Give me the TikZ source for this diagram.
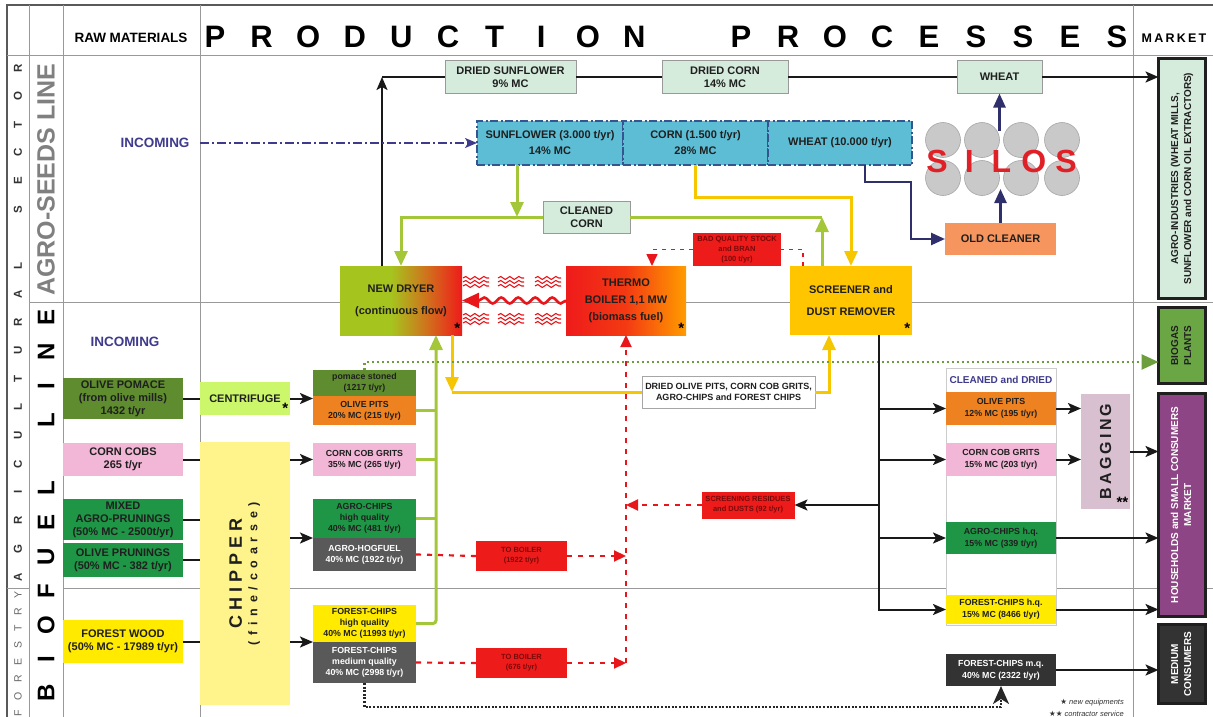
\documentclass[tikz,border=0pt]{standalone}
\usepackage{fontspec}
\setmainfont{Liberation Sans}
\newfontfamily\symbolfont{DejaVu Sans}
\usepackage{graphicx}
\usepackage{tikz}
\usetikzlibrary{arrows.meta,positioning,calc,decorations.pathmorphing}
\definecolor{olivegreen}{HTML}{5E8C2E}
\definecolor{cobpink}{HTML}{F2B6D6}
\definecolor{chipgreen}{HTML}{1E9646}
\definecolor{forestyellow}{HTML}{FFEA00}
\definecolor{chipperyellow}{HTML}{FFF38C}
\definecolor{centrigreen}{HTML}{CCF76A}
\definecolor{pitorange}{HTML}{EF8220}
\definecolor{hoggray}{HTML}{595959}
\definecolor{coalgray}{HTML}{333333}
\definecolor{palegreen}{HTML}{D5EBDC}
\definecolor{seedblue}{HTML}{5CBDD5}
\definecolor{seedborder}{HTML}{34558F}
\definecolor{navyline}{HTML}{2F2F6B}
\definecolor{cleanersalmon}{HTML}{F7955E}
\definecolor{screengold}{HTML}{FFC600}
\definecolor{boilred}{HTML}{EE1B1B}
\definecolor{boilmid}{HTML}{F43A12}
\definecolor{boilorange}{HTML}{FF9C00}
\definecolor{dryergreen}{HTML}{A6C41E}
\definecolor{dryermid}{HTML}{D4691C}
\definecolor{darkred}{HTML}{7A0A0A}
\definecolor{heatred}{HTML}{E8161B}
\definecolor{busgreen}{HTML}{A4C639}
\definecolor{busyellow}{HTML}{F6C700}
\definecolor{dotgreen}{HTML}{6D9E3D}
\definecolor{biogasgreen}{HTML}{6AA644}
\definecolor{housepurple}{HTML}{8E4585}
\definecolor{baggingmauve}{HTML}{D9C0D0}
\definecolor{incomingblue}{HTML}{3E3A8C}
\definecolor{silogray}{HTML}{C9C9C9}
\definecolor{silored}{HTML}{E02027}
\pgfdeclarehorizontalshading{dryershade}{100bp}{color(0bp)=(dryergreen); color(25bp)=(dryergreen); color(46bp)=(dryergreen); color(62bp)=(dryermid); color(75bp)=(boilred); color(100bp)=(boilred)}
\pgfdeclarehorizontalshading{boilershade}{100bp}{color(0bp)=(boilred); color(25bp)=(boilred); color(50bp)=(boilmid); color(75bp)=(boilorange); color(100bp)=(boilorange)}
\tikzset{
  gridline/.style={draw=black!40,line width=0.8pt},
  frameline/.style={draw=black!65,line width=1.2pt},
  headbig/.style={font=\bfseries\fontsize{31}{31}\selectfont,inner sep=0pt},
  headsmall/.style={font=\bfseries\fontsize{13.5}{15}\selectfont,inner sep=0pt},
  sectorletter/.style={rotate=90,inner sep=0pt,text=black!80,font=\bfseries\fontsize{11.5}{11.5}\selectfont},
  forestletter/.style={rotate=90,inner sep=0pt,text=black!60,font=\fontsize{10.5}{10.5}\selectfont},
  fuelletter/.style={rotate=90,inner sep=0pt,font=\bfseries\fontsize{24}{24}\selectfont},
  incoming/.style={text=incomingblue,font=\bfseries\fontsize{13.5}{15}\selectfont},
  box/.style={align=center,inner sep=1pt,outer sep=0pt,text=black!88,font=\bfseries\fontsize{8.8}{11}\selectfont},
  rawbox/.style={box,minimum width=120pt,font=\bfseries\fontsize{11}{13}\selectfont},
  midbox/.style={box,minimum width=103pt},
  drybox/.style={box,minimum width=110pt,font=\bfseries\fontsize{8.8}{12}\selectfont},
  palebox/.style={box,fill=palegreen,draw=black!40,line width=0.8pt,minimum height=33pt,font=\bfseries\fontsize{11}{13}\selectfont},
  seedbox/.style={box,fill=seedblue,draw=seedborder,line width=1.3pt,dash pattern=on 8pt off 2.5pt on 2pt off 2.5pt,minimum height=44pt,font=\bfseries\fontsize{11}{16}\selectfont},
  unitbox/.style={box,minimum width=122pt,minimum height=69pt,font=\bfseries\fontsize{11}{22}\selectfont},
  redbox/.style={box,fill=boilred,text=darkred,font=\bfseries\fontsize{7.5}{10}\selectfont},
  marketbox/.style={box,draw=black!88,line width=3pt,minimum width=47pt,font=\bfseries\fontsize{10}{13}\selectfont},
  starmark/.style={anchor=south east,inner sep=1.5pt,font=\bfseries\fontsize{15}{15}\selectfont},
  silo/.style={circle,fill=silogray,draw=black!35,line width=0.6pt,minimum size=35pt,inner sep=0pt},
  silotext/.style={text=silored,inner sep=0pt,font=\bfseries\fontsize{32}{32}\selectfont},
  ar/.style={-{Stealth[length=13pt,width=11pt,inset=3pt]},draw=black!90,line width=2pt},
  plainline/.style={draw=black!90,line width=2pt},
  gline/.style={draw=busgreen,line width=3pt},
  yline/.style={draw=busyellow,line width=3pt},
  ctip/.style={-{Triangle[length=15pt,width=13pt]}},
  nline/.style={draw=navyline,line width=2.5pt},
  ntip/.style={-{Triangle[length=14pt,width=12pt]}},
  reddash/.style={draw=heatred,line width=2.2pt,dash pattern=on 5pt off 6pt},
  reddashthin/.style={draw=heatred,line width=1.6pt,dash pattern=on 4pt off 5pt},
  rtip/.style={-{Triangle[length=12pt,width=11pt]}},
  incomingline/.style={draw=incomingblue,line width=1.5pt,dash pattern=on 9pt off 3pt on 2pt off 3pt,-{Stealth[length=12pt,width=10pt,inset=3pt]}},
  greendot/.style={draw=dotgreen,line width=2.6pt,dash pattern=on 2.5pt off 2.5pt,-{Triangle[length=17pt,width=15pt]}},
  blackdot/.style={draw=black!85,line width=2.2pt,dash pattern=on 2pt off 1.6pt,-{Stealth[length=18pt,width=16pt,inset=5pt]}},
  heatwave/.style={draw=heatred,line width=1.1pt,decorate,decoration={snake,amplitude=1.5pt,segment length=9pt}},
  heatarrow/.style={draw=heatred,line width=2.6pt,decorate,decoration={snake,amplitude=3pt,segment length=17pt,post length=14pt},-{Triangle[length=17pt,width=15pt]}},
}
\begin{document}
\begin{tikzpicture}[x=1pt,y=-1pt]
  \useasboundingbox (0,0) rectangle (1213,717);
  % frame
  \draw[frameline] (7,717) -- (7,5) -- (1213,5);
  \draw[gridline] (7,55) -- (1213,55);
  \foreach \gx in {29,63,200,1133} \draw[gridline] (\gx,5) -- (\gx,717);
  \draw[gridline] (29,302) -- (1213,302);
  \draw[gridline] (7,588) -- (29,588) (63,588) -- (1213,588);

  % headings
  \node[headsmall] (rawhead) at (131,38) {RAW MATERIALS};
  \foreach \ch [count=\i from 0] in {P,R,O,D,U,C,T,I,O,N}
    \node[headbig] (prod\i) at (215+46.6*\i,37) {\ch};
  \foreach \ch [count=\i from 0] in {P,R,O,C,E,S,S,E,S}
    \node[headbig] (proc\i) at (741+47*\i,37) {\ch};
  \node[headsmall,font=\bfseries\fontsize{12.5}{14}\selectfont\addfontfeature{LetterSpace=18}] (markethead) at (1174,38) {MARKET};

  \foreach \ch [count=\i from 0] in {A,G,R,I,C,U,L,T,U,R,A,L}
    \node[sectorletter] (agr\i) at (18,577-28.28*\i) {\ch};
  \foreach \ch [count=\i from 13] in {S,E,C,T,O,R}
    \node[sectorletter] (sec\i) at (18,577-28.28*\i) {\ch};
  \foreach \ch [count=\i from 0] in {F,O,R,E,S,T,R,Y}
    \node[forestletter] (for\i) at (18,713-16.9*\i) {\ch};
  \node[rotate=90,text=black!50,font=\bfseries\fontsize{25}{25}\selectfont] (seedslabel) at (46,180) {AGRO-SEEDS LINE};
  \foreach \ch [count=\i from 0] in {B,I,O,F,U,E,L}
    \node[fuelletter] (fuel\i) at (46,693-34.1*\i) {\ch};
  \foreach \ch [count=\i from 8] in {L,I,N,E}
    \node[fuelletter] (line\i) at (46,693-34.1*\i) {\ch};

  \node[incoming] (incoming1) at (155,143) {INCOMING};
  \node[incoming] (incoming2) at (125,342) {INCOMING};

  % raw materials
  \node[rawbox,fill=olivegreen,minimum height=41pt] (pomraw) at (123,398.5) {OLIVE POMACE\\(from olive mills)\\1432 t/yr};
  \node[rawbox,fill=cobpink,minimum height=33pt] (cobsraw) at (123,459.5) {CORN COBS\\265 t/yr};
  \node[rawbox,fill=chipgreen,minimum height=41pt] (mixraw) at (123,519.5) {MIXED\\AGRO-PRUNINGS\\(50\% MC - 2500t/yr)};
  \node[rawbox,fill=chipgreen,minimum height=34pt] (oliveprun) at (123,560) {OLIVE PRUNINGS\\(50\% MC - 382 t/yr)};
  \node[rawbox,fill=forestyellow,minimum height=43pt] (woodraw) at (123,641.5) {FOREST WOOD\\(50\% MC - 17989 t/yr)};

  \node[box,fill=centrigreen,minimum width=90pt,minimum height=33pt,font=\bfseries\fontsize{11}{13}\selectfont,label={[starmark]south east:*}] (centrifuge) at (245,398.5) {CENTRIFUGE};
  \node[box,fill=chipperyellow,minimum width=90pt,minimum height=263pt] (chipper) at (245,573.5)
    {\rotatebox{90}{\begin{tabular}{@{}c@{}}{\fontsize{18}{20}\selectfont\addfontfeature{LetterSpace=28}CHIPPER}\\[3pt]{\fontsize{12.5}{14}\selectfont\addfontfeature{LetterSpace=46}(fine/coarse)}\end{tabular}}};

  % first products
  \node[midbox,fill=pitorange,minimum height=29pt] (opits1) at (364.5,410.5) {OLIVE PITS\\20\% MC (215 t/yr)};
  \node[midbox,fill=olivegreen,minimum height=26pt,above=0pt of opits1] (pomstoned) {pomace stoned\\(1217 t/yr)};
  \node[midbox,fill=cobpink,minimum height=33pt] (ccgrits1) at (364.5,459.5) {CORN COB GRITS\\35\% MC (265 t/yr)};
  \node[midbox,fill=chipgreen,minimum height=39pt] (agrochips1) at (364.5,518.5) {AGRO-CHIPS\\high quality\\40\% MC (481 t/yr)};
  \node[midbox,fill=hoggray,text=white,minimum height=33pt,below=0pt of agrochips1] (hogfuel) {AGRO-HOGFUEL\\40\% MC (1922 t/yr)};
  \node[midbox,fill=forestyellow,minimum height=37pt] (fchipshq1) at (364.5,623.5) {FOREST-CHIPS\\high quality\\40\% MC (11993 t/yr)};
  \node[midbox,fill=hoggray,text=white,minimum height=41pt,below=0pt of fchipshq1] (fchipsmq1) {FOREST-CHIPS\\medium quality\\40\% MC (2998 t/yr)};

  % plant
  \node[unitbox,shading=dryershade,label={[starmark]south east:*}] (dryer) at (401,300.5) {NEW DRYER\\(continuous flow)};
  \node[unitbox,minimum width=120pt,shading=boilershade,font=\bfseries\fontsize{11}{17}\selectfont,label={[starmark]south east:*}] (boiler) at (626,300.5) {THERMO\\BOILER 1,1 MW\\(biomass fuel)};
  \node[unitbox,fill=screengold,label={[starmark]south east:*}] (screener) at (851,300.5) {SCREENER and\\DUST REMOVER};

  \node[palebox,minimum width=131pt] (driedsun) at (510.5,77) {DRIED SUNFLOWER\\9\% MC};
  \node[palebox,minimum width=126pt] (driedcorn) at (725,77) {DRIED CORN\\14\% MC};
  \node[palebox,minimum width=85pt] (wheatout) at (999.5,77) {WHEAT};
  \node[palebox,minimum width=87pt,minimum height=32pt] (cleaned) at (586.5,217) {CLEANED\\CORN};

  \node[seedbox,minimum width=146pt] (sunflower) at (550,143) {SUNFLOWER (3.000 t/yr)\\14\% MC};
  \node[seedbox,minimum width=145pt] (corn) at (695.5,143) {CORN (1.500 t/yr)\\28\% MC};
  \node[seedbox,minimum width=144pt] (wheat) at (840,143) {WHEAT (10.000 t/yr)};

  \node[box,fill=cleanersalmon,minimum width=111pt,minimum height=32pt,font=\bfseries\fontsize{11}{13}\selectfont] (oldcleaner) at (1000.5,239) {OLD CLEANER};
  \foreach \sx [count=\i] in {943,982,1021,1062} {
    \node[silo] (silotop\i) at (\sx,140) {};
    \node[silo] (silobot\i) at (\sx,178) {};
  }
  \foreach \ch [count=\i from 0] in {S,I,L,O,S}
    \node[silotext] (silos\i) at (937+32.25*\i,161) {\ch};
  \coordinate (silotop) at (999.5,131);
  \coordinate (silobase) at (1000.5,189);

  \node[redbox,minimum width=88pt,minimum height=33pt] (badstock) at (737,249.5) {BAD QUALITY STOCK\\and BRAN\\(100 t/yr)};
  \node[redbox,minimum width=93pt,minimum height=27pt] (residues) at (748,505) {SCREENING RESIDUES\\and DUSTS (92 t/yr)};
  \node[redbox,minimum width=91pt,minimum height=30pt] (toboiler1) at (521.5,556) {TO BOILER\\(1922 t/yr)};
  \node[redbox,minimum width=91pt,minimum height=30pt] (toboiler2) at (521.5,663) {TO BOILER\\(676 t/yr)};
  \node[box,fill=white,draw=black!35,line width=0.8pt,minimum width=173pt,minimum height=32pt,font=\bfseries\fontsize{9}{11.5}\selectfont] (mixlabel) at (728.5,392) {DRIED OLIVE PITS, CORN COB GRITS,\\AGRO-CHIPS and FOREST CHIPS};

  % cleaned and dried
  \node[draw=black!20,line width=0.8pt,fill=white,minimum width=110pt,minimum height=257pt,inner sep=0pt] (cdpanel) at (1001,496.5) {};
  \node[text=incomingblue,font=\bfseries\fontsize{10}{12}\selectfont] (cdtitle) at (1001,379.5) {CLEANED and DRIED};
  \node[drybox,fill=pitorange,minimum height=33pt] (opits2) at (1001,408.5) {OLIVE PITS\\12\% MC (195 t/yr)};
  \node[drybox,fill=cobpink,minimum height=33pt] (ccgrits2) at (1001,459.5) {CORN COB GRITS\\15\% MC (203 t/yr)};
  \node[drybox,fill=chipgreen,minimum height=32pt] (agrohq2) at (1001,538) {AGRO-CHIPS h.q.\\15\% MC (339 t/yr)};
  \node[drybox,fill=forestyellow,minimum height=29pt] (fchipshq2) at (1001,609.5) {FOREST-CHIPS h.q.\\15\% MC (8466 t/yr)};
  \node[drybox,fill=coalgray,text=white,minimum height=32pt] (fchipsmq2) at (1001,670) {FOREST-CHIPS m.q.\\40\% MC (2322 t/yr)};
  \node[box,fill=baggingmauve,minimum width=49pt,minimum height=115pt,label={[starmark]south east:**}] (bagging) at (1105.5,451.5)
    {\rotatebox{90}{\fontsize{16}{16}\selectfont\addfontfeature{LetterSpace=20}BAGGING}};

  % market
  \node[marketbox,fill=palegreen,minimum height=240pt] (agroind) at (1182,178.5)
    {\rotatebox{90}{\begin{tabular}{@{}c@{}}AGRO-INDUSTRIES (WHEAT MILLS,\\SUNFLOWER and CORN OIL EXTRACTORS)\end{tabular}}};
  \node[marketbox,fill=biogasgreen,minimum height=76pt] (biogas) at (1182,345.5)
    {\rotatebox{90}{\begin{tabular}{@{}c@{}}BIOGAS\\PLANTS\end{tabular}}};
  \node[marketbox,fill=housepurple,text=white,minimum height=223pt] (households) at (1182,505)
    {\rotatebox{90}{\begin{tabular}{@{}c@{}}HOUSEHOLDS and SMALL CONSUMERS\\MARKET\end{tabular}}};
  \node[marketbox,fill=coalgray,text=white,minimum height=79pt] (medium) at (1182,664)
    {\rotatebox{90}{\begin{tabular}{@{}c@{}}MEDIUM\\CONSUMERS\end{tabular}}};

  \node[anchor=east,inner sep=0pt,text=black!80,font=\itshape\fontsize{7.5}{9}\selectfont] (legend1) at (1124,703) {{\symbolfont\upshape ★} new equipments};
  \node[anchor=east,inner sep=0pt,text=black!80,font=\itshape\fontsize{7.5}{9}\selectfont] (legend2) at (1124,713.5) {{\symbolfont\upshape ★★} contractor service};

  % raw materials to treatment
  \draw[plainline] (pomraw.east) -- (centrifuge.west);
  \foreach \src in {cobsraw,mixraw,oliveprun,woodraw}
    \draw[plainline] (\src.east) -- (\src.east -| chipper.west);
  \draw[ar] (centrifuge.east) -- (centrifuge.east -| opits1.west);
  \draw[ar] (chipper.east |- ccgrits1.west) -- (ccgrits1.west);
  \draw[ar] (chipper.east |- agrochips1.south west) -- (agrochips1.south west);
  \draw[ar] (chipper.east |- fchipshq1.south west) -- (fchipshq1.south west);

  % green bus to dryer
  \coordinate (gbus) at (436,0);
  \draw[gline,ctip,rounded corners=3pt] (fchipshq1.east) -| (dryer.south -| gbus);
  \foreach \src in {opits1,ccgrits1,agrochips1}
    \draw[gline] (\src.east) -- (\src.east -| gbus);

  % agro-seeds line
  \coordinate (topturn) at (382,77);
  \draw[ar] (dryer.north -| topturn) -- (topturn);
  \draw[plainline] (topturn) -- (driedsun.west);
  \draw[plainline] (driedsun.east) -- (driedcorn.west);
  \draw[plainline] (driedcorn.east) -- (wheatout.west);
  \draw[ar] (wheatout.east) -- (wheatout.east -| agroind.west);
  \draw[incomingline] ([xshift=7pt]incoming1.east) -- (sunflower.west);

  \coordinate (sundrop) at ([xshift=-33pt]sunflower.south);
  \draw[gline,ctip] (sundrop) -- (sundrop |- cleaned.west);
  \draw[gline,ctip] (cleaned.west) -| (dryer.north);
  \coordinate (gright) at (822,0);
  \draw[gline,ctip] (screener.north -| gright) -- (gright |- cleaned.east);
  \draw[gline] (gright |- cleaned.east) -- (cleaned.east);
  \draw[yline,ctip] (corn.south) -- ++(0,32) -| (screener.north);

  \coordinate (wheatdrop) at ([xshift=25pt]wheat.south);
  \draw[nline,ntip] (wheatdrop) -- ++(0,17) -- ++(46,0) |- (oldcleaner.west);
  \draw[nline,ntip] (oldcleaner.north) -- (oldcleaner.north |- silobase);
  \draw[nline,ntip] (silotop) -- (wheatout.south);

  % boiler feed
  \coordinate (boilin) at ([xshift=26pt]boiler.north);
  \coordinate (screenout) at ([xshift=-48pt]screener.north);
  \draw[reddashthin,rtip] (badstock.west) -| (boilin);
  \draw[reddashthin] (screenout) |- (badstock.east);
  \draw[reddash,rtip] (boiler.south |- toboiler2.east) -- (boiler.south);
  \draw[reddash] (hogfuel.east) -- (toboiler1.west);
  \draw[reddash,rtip] (toboiler1.east) -- (toboiler1.east -| boiler.south);
  \draw[reddash] (fchipsmq1.east) -- (toboiler2.west);
  \draw[reddash,rtip] (toboiler2.east) -- (toboiler2.east -| boiler.south);
  \draw[reddash,rtip] (residues.west) -- (residues.west -| boiler.south);

  % heat to dryer
  \foreach \dx in {1,36,73}
    \foreach \dy in {-22.5,-18.5,-14.5,14.5,18.5,22.5}
      \draw[heatwave] ($(dryer.east)+(\dx,\dy)$) -- ++(26,0);
  \draw[heatarrow] (boiler.west) -- (dryer.east);

  % dried products to screener
  \coordinate (ydrop) at ([xshift=51pt]dryer.south);
  \draw[yline,ctip] (ydrop) -- (ydrop |- mixlabel.west);
  \draw[yline] (ydrop |- mixlabel.west) -- (mixlabel.west);
  \coordinate (yrise) at ([xshift=-22pt]screener.south);
  \draw[yline,ctip] (mixlabel.east) -| (yrise);

  \draw[greendot] (pomstoned.north) -- ++(0,-8) coordinate (biogasturn) -- (biogasturn -| biogas.west);

  % screener outputs
  \coordinate (sbus) at ([xshift=28pt]screener.south);
  \draw[ar] (sbus) |- (fchipshq2.west);
  \foreach \dst in {opits2,ccgrits2,agrohq2}
    \draw[ar] (sbus |- \dst.west) -- (\dst.west);
  \draw[ar] (sbus |- residues.east) -- (residues.east);

  \draw[ar] (opits2.east) -- (opits2.east -| bagging.west);
  \draw[ar] (ccgrits2.east) -- (ccgrits2.east -| bagging.west);
  \draw[ar] (bagging.east) -- (bagging.east -| households.west);
  \draw[ar] (agrohq2.east) -- (agrohq2.east -| households.west);
  \draw[ar] (fchipshq2.east) -- (fchipshq2.east -| households.west);
  \draw[ar] (fchipsmq2.east) -- (fchipsmq2.east -| medium.west);
  \draw[blackdot] (fchipsmq1.south) -- ++(0,24) -| (fchipsmq2.south);
\end{tikzpicture}
\end{document}
